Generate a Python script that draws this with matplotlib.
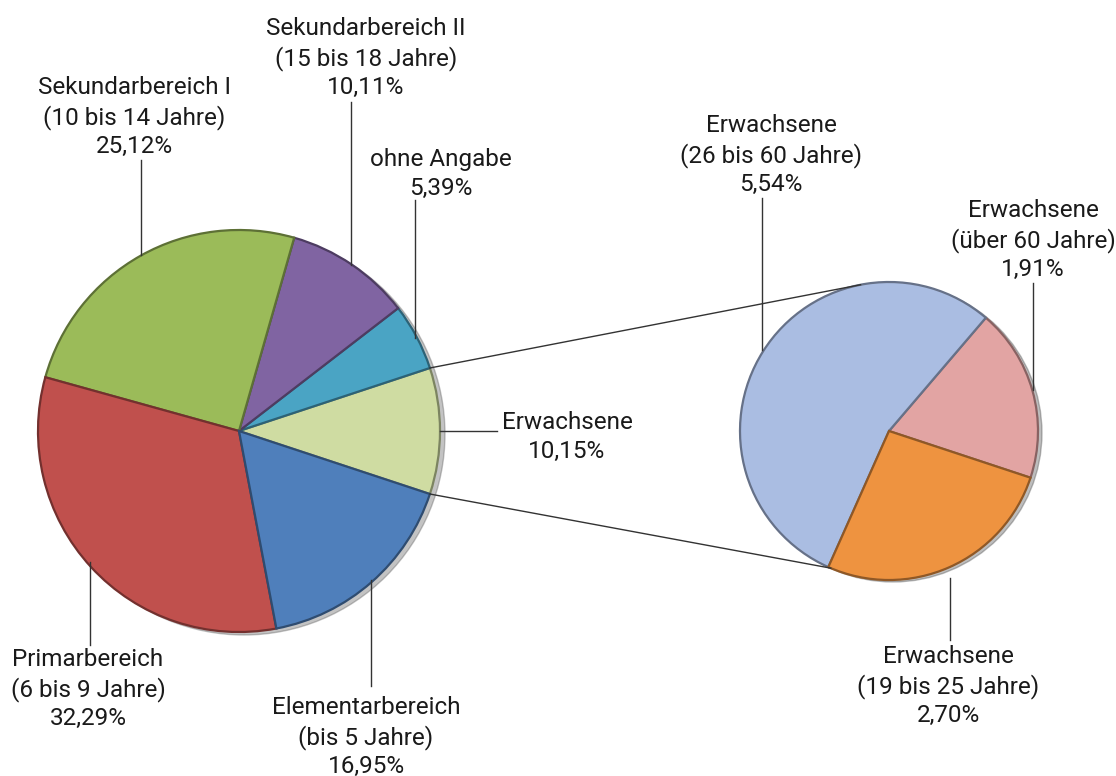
import matplotlib
matplotlib.use("Agg")
import matplotlib.pyplot as plt
import numpy as np

# ---- data ----
main_labels = ["Erwachsene", "ohne Angabe", "Sekundarbereich II\n(15 bis 18 Jahre)",
               "Sekundarbereich I\n(10 bis 14 Jahre)", "Primarbereich\n(6 bis 9 Jahre)",
               "Elementarbereich\n(bis 5 Jahre)"]
main_values = [10.15, 5.39, 10.11, 25.12, 32.29, 16.95]
main_colors = ["#cfdca2", "#4aa4c4", "#8064a2", "#9bbb59", "#c0504d", "#4f7fbb"]

sub_labels = ["Erwachsene\n(über 60 Jahre)", "Erwachsene\n(26 bis 60 Jahre)", "Erwachsene\n(19 bis 25 Jahre)"]
sub_values = [1.91, 5.54, 2.70]
sub_colors = ["#e2a4a3", "#aabde2", "#ee9340"]

def fmt(v):
    return f"{v:.2f}%".replace(".", ",")

W, H = 1116, 776
plt.rcParams["font.family"] = ["Roboto", "DejaVu Sans"]
fig = plt.figure(figsize=(W / 100, H / 100), dpi=100)
ax = fig.add_axes([0, 0, 1, 1])
FS = 17.5
LS = 1.29

def py(y):
    return H - y

def darker(c, f=0.75):
    rgb = np.array(matplotlib.colors.to_rgb(c))
    return tuple(rgb * f)

# main pie
c1 = (239, py(431)); r1 = 201
start = -main_values[0] / sum(main_values) * 180
ax.add_patch(plt.Circle((c1[0] + 5, c1[1] - 3), r1, color="#555555", alpha=0.35, zorder=0.5))
w1, _ = ax.pie(main_values, colors=main_colors, startangle=start, counterclock=True,
               center=c1, radius=r1, frame=True,
               wedgeprops=dict(linewidth=1.6))
for w, c in zip(w1, main_colors):
    w.set_edgecolor(darker(c, 0.6))
    w.set_zorder(1)

# sub pie
c2 = (889, py(431)); r2 = 149
ax.add_patch(plt.Circle((c2[0] + 4, c2[1] - 2), r2, color="#444444", alpha=0.35, zorder=0.5))
w2, _ = ax.pie(sub_values, colors=sub_colors, startangle=start, counterclock=True,
               center=c2, radius=r2, frame=True,
               wedgeprops=dict(linewidth=1.6))
for w, c in zip(w2, sub_colors):
    w.set_edgecolor(darker(c, 0.6))
    w.set_zorder(1)

ax.set_xlim(0, W)
ax.set_ylim(0, H)
ax.set_aspect("equal")
ax.axis("off")

# connector lines
a_top, a_bot = np.deg2rad(-start), np.deg2rad(start)
p1 = (c1[0] + r1 * np.cos(a_top), c1[1] + r1 * np.sin(a_top))
p2 = (c1[0] + r1 * np.cos(a_bot), c1[1] + r1 * np.sin(a_bot))
q1 = (c2[0] + r2 * np.cos(np.deg2rad(101)), c2[1] + r2 * np.sin(np.deg2rad(101)))
q2 = (c2[0] + r2 * np.cos(np.deg2rad(-113)), c2[1] + r2 * np.sin(np.deg2rad(-113)))
for a, b in [(p1, q1), (p2, q2)]:
    ax.plot([a[0], b[0]], [a[1], b[1]], color="#333333", lw=1, zorder=3)

def label(x, y, text, lx, ly0, ly1):
    ax.text(x, py(y), text, ha="center", va="center", fontsize=FS, linespacing=LS,
            color="#1a1a1a", zorder=4)
    ax.plot([lx[0], lx[1]], [py(ly0), py(ly1)], color="#333333", lw=1, zorder=3)

label(134, 117, main_labels[3] + "\n" + fmt(main_values[3]), (141, 141), 160, 255)
label(366, 58, main_labels[2] + "\n" + fmt(main_values[2]), (351, 351), 102, 265)
label(441, 174, main_labels[1] + "\n" + fmt(main_values[1]), (415, 415), 200, 338)
label(567, 437, main_labels[0] + "\n" + fmt(main_values[0]), (440, 497), 431, 431)
label(366, 737, main_labels[5] + "\n" + fmt(main_values[5]), (371, 371), 580, 686)
label(88, 689, main_labels[4] + "\n" + fmt(main_values[4]), (90, 90), 562, 645)

label(771, 155, sub_labels[1] + "\n" + fmt(sub_values[1]), (762, 762), 198, 350)
label(1033, 240, sub_labels[0] + "\n" + fmt(sub_values[0]), (1033, 1033), 283, 390)
label(948, 686, sub_labels[2] + "\n" + fmt(sub_values[2]), (950, 950), 578, 640)

fig.savefig("out.png", dpi=100, facecolor="white")
